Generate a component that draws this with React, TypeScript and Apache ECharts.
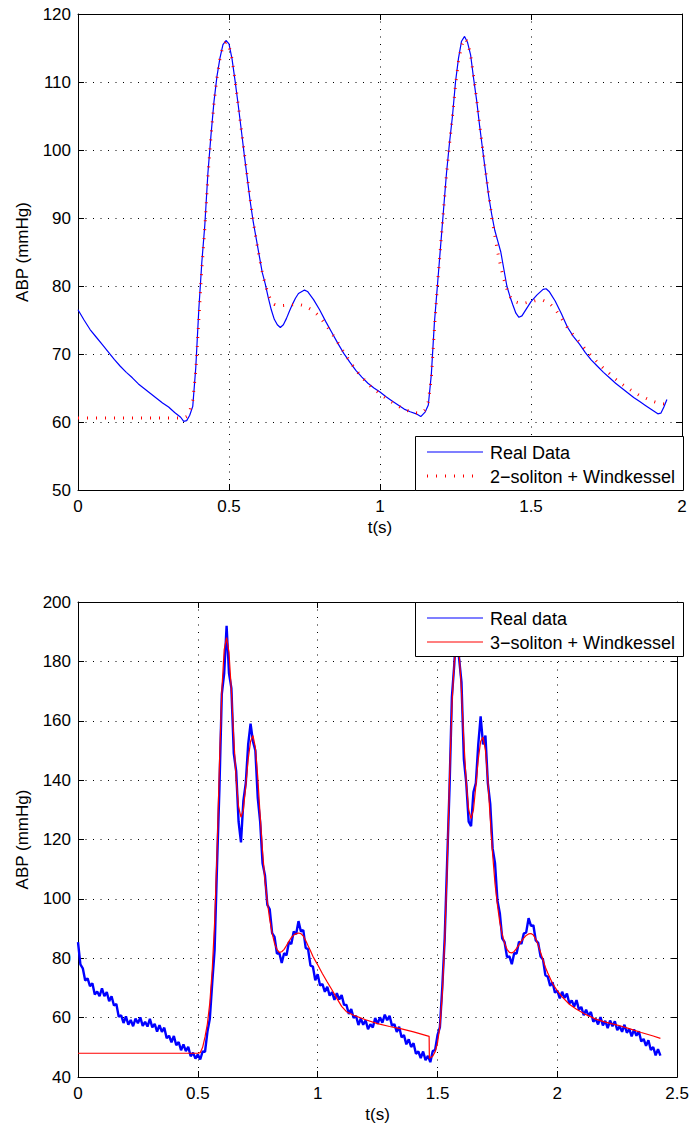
import React, { useEffect, useRef } from "react";
import * as echarts from "echarts";

// ---------- Top panel data ----------
const topReal: [number, number][] = [
  [0, 76.5], [0.02, 75], [0.04, 73.6], [0.06, 72.5], [0.08, 71.4], [0.1, 70.3], [0.12, 69.2], [0.14, 68.2],
  [0.16, 67.3], [0.18, 66.5], [0.2, 65.6], [0.22, 64.9], [0.24, 64.2], [0.26, 63.5], [0.28, 62.8], [0.3, 62.2],
  [0.32, 61.4], [0.34, 60.7], [0.35, 60.1], [0.36, 60.2], [0.37, 61], [0.38, 62.3], [0.39, 68], [0.4, 76.5],
  [0.41, 83.5], [0.42, 89], [0.43, 96.5], [0.44, 102], [0.45, 107], [0.46, 110.8], [0.47, 113.5], [0.48, 115.5],
  [0.49, 116.1], [0.5, 115.6], [0.51, 113.4], [0.52, 110.2], [0.53, 106.8], [0.54, 103.2], [0.55, 99.5], [0.56, 96],
  [0.57, 92.5], [0.58, 89.5], [0.59, 87], [0.6, 84.5], [0.61, 82], [0.62, 80.3], [0.63, 78.3], [0.64, 76.5],
  [0.65, 75.1], [0.66, 74.3], [0.67, 73.9], [0.68, 74.3], [0.69, 75.2], [0.7, 76.3], [0.71, 77.3], [0.72, 78.2],
  [0.73, 78.9], [0.75, 79.4], [0.76, 79.2], [0.78, 78], [0.8, 76.5], [0.82, 74.8], [0.84, 73.2], [0.86, 71.6],
  [0.88, 70.1], [0.9, 68.8], [0.92, 67.6], [0.94, 66.6], [0.96, 65.7], [0.98, 65], [1.0, 64.4], [1.02, 63.7],
  [1.04, 63.1], [1.06, 62.5], [1.08, 61.9], [1.1, 61.5], [1.12, 61.2], [1.135, 60.8], [1.15, 61.5], [1.16, 62.5],
  [1.17, 67], [1.18, 74.5], [1.19, 80], [1.2, 85.5], [1.21, 91], [1.22, 96.5], [1.23, 101], [1.24, 105],
  [1.25, 110], [1.26, 113.5], [1.27, 116], [1.28, 116.7], [1.29, 115.8], [1.3, 114], [1.31, 110.5], [1.32, 107.3],
  [1.33, 103.5], [1.34, 100], [1.35, 96.6], [1.36, 93.2], [1.37, 90.5], [1.38, 88.2], [1.39, 86.6], [1.4, 85],
  [1.41, 82.5], [1.42, 80], [1.43, 78.5], [1.44, 77.2], [1.45, 76], [1.46, 75.4], [1.47, 75.6], [1.48, 76.3],
  [1.5, 77.7], [1.52, 78.7], [1.54, 79.5], [1.55, 79.6], [1.56, 79.2], [1.58, 77.8], [1.6, 76], [1.62, 74],
  [1.64, 72.6], [1.66, 71.5], [1.68, 70.2], [1.7, 69.1], [1.72, 68.2], [1.74, 67.3], [1.76, 66.5], [1.78, 65.7],
  [1.8, 65], [1.82, 64.3], [1.84, 63.6], [1.86, 63], [1.88, 62.4], [1.9, 61.8], [1.92, 61.2], [1.93, 61.3],
  [1.94, 62.2], [1.95, 63.3],
];

const topFit: [number, number][] = [
  [0, 60.6], [0.1, 60.6], [0.2, 60.6], [0.3, 60.6], [0.35, 60.6], [0.36, 60.8], [0.37, 61.6], [0.38, 63.2],
  [0.39, 67.5], [0.4, 75], [0.41, 82.5], [0.42, 88.5], [0.43, 96], [0.44, 101.8], [0.45, 106.8], [0.46, 110.6],
  [0.47, 113.4], [0.48, 115.3], [0.49, 115.9], [0.5, 115.3], [0.51, 113.4], [0.52, 110.3], [0.53, 106.8], [0.54, 103.3],
  [0.55, 99.8], [0.56, 96.2], [0.57, 92.8], [0.58, 89.6], [0.59, 86.8], [0.6, 84.3], [0.61, 82.1], [0.62, 80.2],
  [0.63, 78.8], [0.64, 77.8], [0.65, 77.3], [0.67, 77.1], [0.7, 77.2], [0.73, 77.3], [0.75, 77.1], [0.77, 76.6],
  [0.79, 75.9], [0.81, 74.9], [0.83, 73.7], [0.85, 72.4], [0.87, 71], [0.89, 69.6], [0.91, 68.3], [0.93, 67.1],
  [0.95, 66.1], [0.97, 65.2], [0.99, 64.5], [1.01, 63.8], [1.03, 63.2], [1.05, 62.6], [1.07, 62.1], [1.09, 61.7],
  [1.11, 61.4], [1.13, 61.3], [1.14, 61.4], [1.15, 61.8], [1.16, 63], [1.17, 66.5], [1.18, 73.5], [1.19, 80],
  [1.2, 85.5], [1.21, 91], [1.22, 96.3], [1.23, 100.8], [1.24, 105], [1.25, 109.5], [1.26, 113], [1.27, 115.3],
  [1.28, 116.4], [1.29, 115.9], [1.3, 114], [1.31, 110.8], [1.32, 107.4], [1.33, 103.7], [1.34, 100.2], [1.35, 96.8],
  [1.36, 93.4], [1.37, 90.2], [1.38, 87.4], [1.39, 84.9], [1.4, 82.8], [1.41, 81], [1.42, 79.6], [1.43, 78.5],
  [1.44, 77.8], [1.46, 77.5], [1.48, 77.5], [1.5, 77.7], [1.52, 77.9], [1.54, 77.9], [1.56, 77.5], [1.58, 76.6],
  [1.6, 75.3], [1.62, 73.9], [1.64, 72.8], [1.66, 71.8], [1.68, 70.7], [1.7, 69.7], [1.72, 68.8], [1.74, 67.9],
  [1.76, 67.1], [1.78, 66.3], [1.8, 65.6], [1.82, 65], [1.84, 64.4], [1.86, 63.9], [1.88, 63.5], [1.9, 63.1],
  [1.92, 62.8], [1.95, 62.6],
];

// ---------- Bottom panel data ----------
const bottomRealStart = 0;
const bottomRealStep = 0.01;
const bottomReal: number[] = [
  85.4, 77.9, 76.6, 72.5, 73.2, 70.6, 71.6, 67.8, 68.8, 67.2,
  69.9, 67.2, 68.6, 65.5, 67.2, 64.1, 64.6, 60.3, 60.8, 58.2,
  60.4, 57.6, 59.2, 57.1, 59.7, 58.1, 60.1, 57.2, 58.6, 57.0,
  59.6, 56.7, 57.9, 55.3, 57.5, 55.2, 56.6, 53.1, 53.9, 51.7,
  53.8, 50.7, 51.8, 49.0, 51.0, 48.7, 50.2, 47.0, 48.2, 46.2,
  47.6, 45.9, 48.6, 48.5, 55.2, 59.6, 71.6, 82.8, 111, 137,
  169, 176, 192, 176, 171, 149, 143, 126, 119, 133,
  139, 152, 159, 153, 150, 134, 126, 112, 108, 98,
  96.5, 88.5, 87.2, 81.6, 81.8, 78.4, 81.7, 81, 85.5, 84.8,
  89, 88.1, 92.5, 89, 89.5, 83.5, 83, 77.5, 77.2, 72.6,
  74.6, 70.8, 71.3, 68.7, 70.4, 67.4, 68.6, 66, 68.2, 66.1,
  67.6, 64.3, 64.3, 61.2, 62.9, 59.9, 60.6, 57.5, 59.7, 57.6,
  59.1, 56.1, 57.8, 56.7, 59.9, 57.9, 60.1, 58.3, 61, 59.1,
  60.6, 57.3, 57.8, 55.2, 56.9, 53.4, 54.1, 51, 52.7, 50.1,
  51.4, 47.8, 48.6, 46.4, 48.6, 45.7, 47.1, 45, 48.7, 49.1,
  54.1, 56.8, 70.3, 86.7, 112, 137, 168, 179, 193, 181,
  173, 147, 139, 126, 124.5, 136, 139, 152, 161.5, 152,
  155, 139, 132, 117, 112, 99.5, 95.2, 86.7, 85.4, 80.4,
  80.6, 78, 81.7, 81.6, 85.6, 84.8, 88.3, 88.7, 93.5, 90.9,
  91.1, 86, 85.2, 80.6, 79.6, 74.3, 73.8, 70.7, 71.9, 68.4,
  69.1, 66.5, 68.7, 66.6, 68.1, 64.8, 65.8, 63.7, 65.9, 62.7,
  63.6, 60.8, 62.7, 60.6, 61.9, 58.6, 59.6, 57.7, 60.2, 57.4,
  58.9, 56.5, 59, 57.1, 58.8, 55.8, 57.1, 55.2, 57.6, 54.9,
  56.2, 53.7, 56, 53.9, 55.4, 52, 52.8, 50.5, 52.4, 49.1,
  50.1, 47.3, 49.4, 47.2,
];

const bottomFit: [number, number][] = [
  [0, 48], [0.5, 48], [0.51, 48.2], [0.52, 50], [0.53, 53.5], [0.54, 58], [0.55, 65], [0.56, 76], [0.57, 92],
  [0.58, 115], [0.59, 145], [0.6, 170], [0.61, 184], [0.62, 188], [0.63, 183], [0.64, 170], [0.65, 154], [0.66, 140],
  [0.67, 131], [0.68, 127.5], [0.69, 130], [0.7, 138], [0.71, 147], [0.72, 153], [0.73, 155], [0.74, 151], [0.75, 141],
  [0.76, 128], [0.77, 116], [0.78, 106], [0.79, 99], [0.8, 93], [0.81, 88.5], [0.82, 85], [0.83, 83], [0.84, 82],
  [0.85, 82.2], [0.86, 83], [0.87, 84.3], [0.88, 85.7], [0.89, 87], [0.9, 87.8], [0.91, 88.3], [0.92, 88.5],
  [0.93, 88.3], [0.94, 87.5], [0.95, 86], [0.96, 84.2], [0.97, 82.5], [0.98, 80.7], [0.99, 79.2], [1.0, 77.8],
  [1.02, 74.8], [1.04, 72], [1.06, 69.3], [1.08, 66.5], [1.1, 63.8], [1.12, 62], [1.15, 60.8], [1.2, 59.3],
  [1.25, 58], [1.3, 57], [1.35, 56.2], [1.4, 55.2], [1.465, 53.7], [1.466, 46.3], [1.48, 47], [1.49, 48.5],
  [1.5, 51.5], [1.51, 57], [1.52, 68], [1.53, 86], [1.54, 110], [1.55, 140], [1.56, 165], [1.57, 180], [1.58, 187],
  [1.59, 183], [1.6, 170], [1.61, 153], [1.62, 139], [1.63, 130], [1.64, 127], [1.65, 130], [1.66, 138], [1.67, 147],
  [1.68, 153], [1.69, 154.5], [1.7, 150], [1.71, 140], [1.72, 127], [1.73, 115], [1.74, 105], [1.75, 98], [1.76, 92],
  [1.77, 88], [1.78, 85], [1.79, 83], [1.8, 82], [1.81, 81.8], [1.82, 82.3], [1.83, 83.3], [1.84, 84.5], [1.85, 85.8],
  [1.86, 86.8], [1.87, 87.7], [1.88, 88.2], [1.89, 88.3], [1.9, 87.8], [1.91, 86.5], [1.92, 84.5], [1.93, 82],
  [1.94, 79.5], [1.95, 77], [1.96, 75], [1.98, 71.5], [2.0, 69], [2.02, 67], [2.05, 64.5], [2.08, 62.8], [2.12, 61],
  [2.16, 59.5], [2.2, 58.5], [2.25, 57.5], [2.3, 56.3], [2.35, 55], [2.4, 53.8], [2.43, 53],
];

const topLegend = ["Real Data", "2\u2212soliton + Windkessel"];
const bottomLegend = ["Real data", "3\u2212soliton + Windkessel"];
const xName = "t(s)";
const yName = "ABP (mmHg)";

const FONT = '"Liberation Sans", Arial, Helvetica, sans-serif';

export default function App() {
  const ref = useRef<HTMLDivElement>(null);
  useEffect(() => {
    document.body.style.margin = "0";
    const chart = echarts.init(ref.current!, null, { renderer: "svg" });

    const grids = [
      { left: 78, top: 14, width: 604, height: 476 },
      { left: 78, top: 602, width: 604, height: 475 },
    ];

    const split = { show: true, lineStyle: { color: "#000", width: 1, type: [1, 6.5] as any } };
    const tick = { show: true, inside: true, length: 6, lineStyle: { color: "#000" } };
    const line = { show: true, onZero: false, lineStyle: { color: "#000", width: 1 } };
    const label = { show: true, color: "#000", fontSize: 17, fontFamily: FONT };

    const xMain = (gi: number, max: number) => ({
      type: "value", gridIndex: gi, min: 0, max, interval: 0.5, position: "bottom",
      axisLine: line, axisTick: tick, splitLine: split,
      axisLabel: { ...label, margin: 8 },
      name: xName, nameLocation: "middle", nameGap: 29,
      nameTextStyle: { color: "#000", fontSize: 17, fontFamily: FONT },
    });
    const xTop = (gi: number, max: number) => ({
      type: "value", gridIndex: gi, min: 0, max, interval: 0.5, position: "top",
      axisLine: line, axisTick: tick, splitLine: { show: false }, axisLabel: { show: false },
    });
    const yMain = (gi: number, min: number, max: number, interval: number) => ({
      type: "value", gridIndex: gi, min, max, interval, position: "left",
      axisLine: line, axisTick: tick, splitLine: split,
      axisLabel: { ...label, margin: 7 },
      name: yName, nameLocation: "middle", nameGap: 47, nameRotate: 90,
      nameTextStyle: { color: "#000", fontSize: 17, fontFamily: FONT },
    });
    const yRight = (gi: number, min: number, max: number, interval: number) => ({
      type: "value", gridIndex: gi, min, max, interval, position: "right",
      axisLine: line, axisTick: tick, splitLine: { show: false }, axisLabel: { show: false },
    });

    const legendBox = (y: number, labels: string[], dotted: boolean) => {
      const els: any[] = [
        { type: "rect", z: 100, shape: { x: 415.5, y: y + 0.5, width: 268, height: 54 },
          style: { fill: "#fff", stroke: "#000", lineWidth: 1 } },
        { type: "line", z: 101, shape: { x1: 427, y1: y + 16, x2: 483, y2: y + 16 },
          style: { stroke: "#0000ff", lineWidth: 1.2 } },
        dotted
          ? { type: "line", z: 101, shape: { x1: 427, y1: y + 40, x2: 480, y2: y + 40 },
              style: { stroke: "#ff0000", lineWidth: 3, lineDash: [1, 8] } }
          : { type: "line", z: 101, shape: { x1: 427, y1: y + 40, x2: 483, y2: y + 40 },
              style: { stroke: "#ff0000", lineWidth: 1.2 } },
        { type: "text", z: 101, x: 490, y: y + 16.5,
          style: { text: labels[0], fill: "#000", fontSize: 18, fontFamily: FONT, verticalAlign: "middle" } },
        { type: "text", z: 101, x: 490, y: y + 40.5,
          style: { text: labels[1], fill: "#000", fontSize: 18, fontFamily: FONT, verticalAlign: "middle" } },
      ];
      return els;
    };

    chart.setOption({
      animation: false,
      backgroundColor: "#fff",
      grid: grids.map((g) => ({ ...g, show: false, containLabel: false })),
      xAxis: [xMain(0, 2), xTop(0, 2), xMain(1, 2.5), xTop(1, 2.5)],
      yAxis: [yMain(0, 50, 120, 10), yRight(0, 50, 120, 10), yMain(1, 40, 200, 20), yRight(1, 40, 200, 20)],
      series: [
        {
          type: "line", name: topLegend[0], xAxisIndex: 0, yAxisIndex: 0, data: topReal,
          symbol: "none", lineStyle: { color: "#0000ff", width: 1.2 }, z: 2,
        },
        {
          type: "line", name: topLegend[1], xAxisIndex: 0, yAxisIndex: 0, data: topFit,
          symbol: "none", lineStyle: { color: "#ff0000", width: 3, type: [1, 8] as any, cap: "butt" }, z: 3,
        },
        {
          type: "line", name: bottomLegend[0], xAxisIndex: 2, yAxisIndex: 2,
          data: bottomReal.map((v, i) => [bottomRealStart + i * bottomRealStep, v]),
          symbol: "none", lineStyle: { color: "#0000ff", width: 2.4 }, z: 2,
        },
        {
          type: "line", name: bottomLegend[1], xAxisIndex: 2, yAxisIndex: 2, data: bottomFit,
          symbol: "none", lineStyle: { color: "#ff0000", width: 1.2 }, z: 3,
        },
      ],
      graphic: [...legendBox(436, topLegend, true), ...legendBox(602, bottomLegend, false)],
    } as any);

    return () => chart.dispose();
  }, []);

  return <div ref={ref} style={{ width: 692, height: 1133 }} />;
}
